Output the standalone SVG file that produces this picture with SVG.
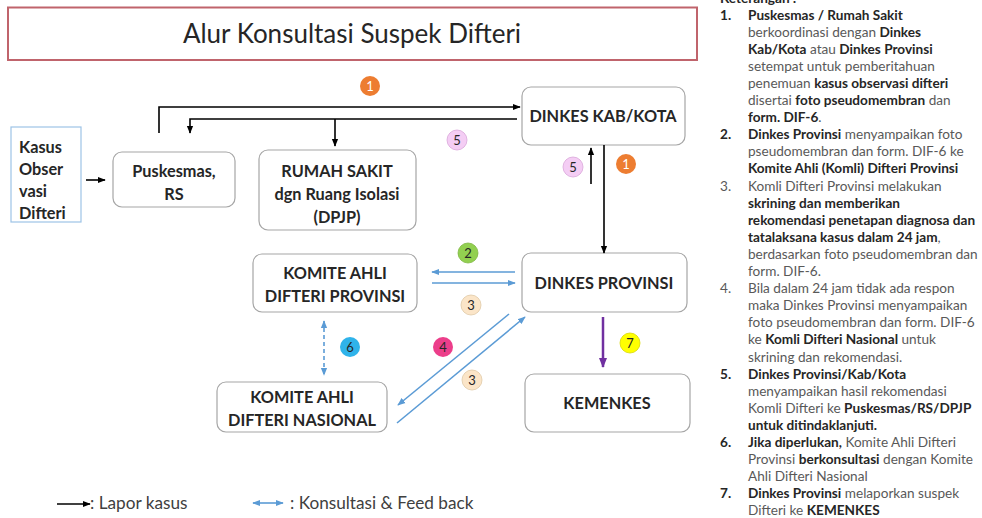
<svg xmlns="http://www.w3.org/2000/svg" width="982" height="518" viewBox="0 0 982 518">
<defs>
<style>
.node rect{fill:#fff;stroke:#a6a6a6;stroke-width:1.2}
.nt{font-family:Lato,"Liberation Sans",sans-serif;font-weight:bold;font-size:16.3px;fill:#262626;text-anchor:middle}
.bk{fill:none;stroke:#000;stroke-width:1.6}
.bl{fill:none;stroke:#5b9bd5;stroke-width:1.6}
.num{font-family:Lato,"Liberation Sans",sans-serif;font-size:13px;text-anchor:middle;fill:#262626}
.ket{font-family:Lato,"Liberation Sans",sans-serif;font-size:13.6px;fill:#595959}
.ket .b{font-weight:bold;fill:#262626}
.leg{font-family:Lato,"Liberation Sans",sans-serif;font-size:17.2px;fill:#404040}
</style>
<marker id="ab" viewBox="0 0 10 10" refX="9" refY="5" markerWidth="8" markerHeight="8" markerUnits="userSpaceOnUse" orient="auto-start-reverse"><path d="M0,1 L10,5 L0,9 z" fill="#000"/></marker>
<marker id="abl" viewBox="0 0 10 10" refX="9" refY="5" markerWidth="8" markerHeight="8" markerUnits="userSpaceOnUse" orient="auto-start-reverse"><path d="M0,1 L10,5 L0,9 z" fill="#5b9bd5"/></marker>
<marker id="ap" viewBox="0 0 10 10" refX="9" refY="5" markerWidth="10" markerHeight="10" markerUnits="userSpaceOnUse" orient="auto-start-reverse"><path d="M0,1 L10,5 L0,9 z" fill="#7030a0"/></marker>
</defs>
<rect width="982" height="518" fill="#fff"/>

<g id="title">
<rect x="8" y="7.5" width="689" height="52.5" fill="#fff" stroke="#c0646c" stroke-width="2"/>
<text x="352" y="43" font-family="Lato,'Liberation Sans',sans-serif" font-size="26" fill="#262626" text-anchor="middle">Alur Konsultasi Suspek Difteri</text>
</g>

<g id="kasus">
<rect x="11" y="127" width="70" height="95" fill="#fff" stroke="#9dc3e6" stroke-width="1.2"/>
<text class="nt" style="text-anchor:start" x="19"><tspan x="19" y="153">Kasus</tspan><tspan x="19" y="175">Obser</tspan><tspan x="19" y="197">vasi</tspan><tspan x="19" y="219">Difteri</tspan></text>
</g>

<g id="puskesmas" class="node">
<rect x="113" y="152" width="122" height="55" rx="9"/>
<text class="nt" x="174"><tspan x="174" y="177">Puskesmas,</tspan><tspan x="174" y="200">RS</tspan></text>
</g>

<g id="rumahsakit" class="node">
<rect x="259" y="150" width="157" height="80" rx="9"/>
<text class="nt" x="337"><tspan x="337" y="177">RUMAH SAKIT</tspan><tspan x="337" y="200">dgn Ruang Isolasi</tspan><tspan x="337" y="223">(DPJP)</tspan></text>
</g>

<g id="dinkeskab" class="node">
<rect x="522" y="87" width="163" height="58" rx="9"/>
<text class="nt" x="603" y="122">DINKES KAB/KOTA</text>
</g>

<g id="dinkesprov" class="node">
<rect x="522" y="253" width="165" height="59" rx="9"/>
<text class="nt" x="604" y="289">DINKES PROVINSI</text>
</g>

<g id="komiteprov" class="node">
<rect x="253" y="254" width="164" height="58" rx="9"/>
<text class="nt" x="335"><tspan x="335" y="279">KOMITE AHLI</tspan><tspan x="335" y="302">DIFTERI PROVINSI</tspan></text>
</g>

<g id="komitenas" class="node">
<rect x="217" y="382" width="170" height="50" rx="9"/>
<text class="nt" x="302"><tspan x="302" y="403">KOMITE AHLI</tspan><tspan x="302" y="426">DIFTERI NASIONAL</tspan></text>
</g>

<g id="kemenkes" class="node">
<rect x="525" y="374" width="165" height="58" rx="9"/>
<text class="nt" x="607" y="409">KEMENKES</text>
</g>

<g id="connectors">
<path class="bk" d="M86,180 H105" marker-end="url(#ab)"/>
<path class="bk" d="M159,133 V107 H520" marker-end="url(#ab)"/>
<path class="bk" d="M517,119 H190 V133" marker-end="url(#ab)"/>
<path class="bk" d="M335,119 V146" marker-end="url(#ab)"/>
<path class="bk" d="M604,145 V253" marker-end="url(#ab)"/>
<path class="bk" d="M591,184 V148" marker-end="url(#ab)"/>
<path class="bl" d="M515,272 H432" marker-end="url(#abl)"/>
<path class="bl" d="M432,283 H515" marker-end="url(#abl)"/>
<path class="bl" d="M324,321 V375" stroke-dasharray="4,3" marker-start="url(#abl)" marker-end="url(#abl)"/>
<path class="bl" d="M509,314 L398,405" marker-end="url(#abl)"/>
<path class="bl" d="M397,423 L525,317" marker-end="url(#abl)"/>
<path d="M603,317 V367" stroke="#7030a0" stroke-width="2.5" fill="none" marker-end="url(#ap)"/>
</g>

<g id="badges">
<circle cx="370" cy="86" r="10" fill="#ed7d31"/><text class="num" x="370" y="90.5" style="fill:#fff">1</text>
<circle cx="457" cy="140" r="10" fill="#f4cdf4" stroke="#d9a6d9" stroke-width="0.8"/><text class="num" x="457" y="144.5">5</text>
<circle cx="573" cy="167" r="10" fill="#f4cdf4" stroke="#d9a6d9" stroke-width="0.8"/><text class="num" x="573" y="171.5">5</text>
<circle cx="626" cy="164" r="10" fill="#ed7d31"/><text class="num" x="626" y="168.5" style="fill:#fff">1</text>
<circle cx="468" cy="253" r="10" fill="#92d050" stroke="#7fb842" stroke-width="0.8"/><text class="num" x="468" y="257.5">2</text>
<circle cx="471" cy="305" r="10" fill="#fbe5c8" stroke="#e0c9a6" stroke-width="0.8"/><text class="num" x="471" y="309.5">3</text>
<circle cx="350" cy="347" r="10" fill="#2fb3ea"/><text class="num" x="350" y="351.5">6</text>
<circle cx="443" cy="347" r="10" fill="#ec3e8a"/><text class="num" x="443" y="351.5">4</text>
<circle cx="472" cy="380" r="10" fill="#fbe5c8" stroke="#e0c9a6" stroke-width="0.8"/><text class="num" x="472" y="384.5">3</text>
<circle cx="630" cy="343" r="10" fill="#ffff00" stroke="#d8d800" stroke-width="0.8"/><text class="num" x="630" y="347.5">7</text>
</g>

<g id="legend">
<path class="bk" d="M57,504 H90" marker-end="url(#ab)"/>
<text class="leg" x="90" y="509">: Lapor kasus</text>
<path class="bl" d="M253,503 H283" marker-start="url(#abl)" marker-end="url(#abl)"/>
<text class="leg" x="290" y="509">: Konsultasi &amp; Feed back</text>
</g>

<g id="keterangan" class="ket">
<text x="720" y="3" class="b">Keterangan :</text>
<text x="720" y="19.5" class="b">1.</text>
<text x="748" y="19.5"><tspan class="b">Puskesmas / Rumah Sakit</tspan></text>
<text x="748" y="36.6">berkoordinasi dengan <tspan class="b">Dinkes</tspan></text>
<text x="748" y="53.7"><tspan class="b">Kab/Kota</tspan> atau <tspan class="b">Dinkes Provinsi</tspan></text>
<text x="748" y="70.8">setempat untuk pemberitahuan</text>
<text x="748" y="87.9">penemuan <tspan class="b">kasus observasi difteri</tspan></text>
<text x="748" y="105">disertai <tspan class="b">foto pseudomembran</tspan> dan</text>
<text x="748" y="122.1"><tspan class="b">form. DIF-6</tspan>.</text>
<text x="720" y="139.2" class="b">2.</text>
<text x="748" y="139.2"><tspan class="b">Dinkes Provinsi</tspan> menyampaikan foto</text>
<text x="748" y="156.3">pseudomembran dan form. DIF-6 ke</text>
<text x="748" y="173.4"><tspan class="b">Komite Ahli (Komli) Difteri Provinsi</tspan></text>
<text x="720" y="190.5">3.</text>
<text x="748" y="190.5">Komli Difteri Provinsi melakukan</text>
<text x="748" y="207.6"><tspan class="b">skrining dan memberikan</tspan></text>
<text x="748" y="224.7"><tspan class="b">rekomendasi penetapan diagnosa dan</tspan></text>
<text x="748" y="241.8"><tspan class="b">tatalaksana kasus dalam 24 jam</tspan>,</text>
<text x="748" y="258.9">berdasarkan foto pseudomembran dan</text>
<text x="748" y="276">form. DIF-6.</text>
<text x="720" y="293.1">4.</text>
<text x="748" y="293.1">Bila dalam 24 jam tidak ada respon</text>
<text x="748" y="310.2">maka Dinkes Provinsi menyampaikan</text>
<text x="748" y="327.3">foto pseudomembran dan form. DIF-6</text>
<text x="748" y="344.4">ke <tspan class="b">Komli Difteri Nasional</tspan> untuk</text>
<text x="748" y="361.5">skrining dan rekomendasi.</text>
<text x="720" y="378.6" class="b">5.</text>
<text x="748" y="378.6"><tspan class="b">Dinkes Provinsi/Kab/Kota</tspan></text>
<text x="748" y="395.7">menyampaikan hasil rekomendasi</text>
<text x="748" y="412.8">Komli Difteri ke <tspan class="b">Puskesmas/RS/DPJP</tspan></text>
<text x="748" y="429.9"><tspan class="b">untuk ditindaklanjuti.</tspan></text>
<text x="720" y="447" class="b">6.</text>
<text x="748" y="447"><tspan class="b">Jika diperlukan,</tspan> Komite Ahli Difteri</text>
<text x="748" y="464.1">Provinsi <tspan class="b">berkonsultasi</tspan> dengan Komite</text>
<text x="748" y="481.2">Ahli Difteri Nasional</text>
<text x="720" y="498.3" class="b">7.</text>
<text x="748" y="498.3"><tspan class="b">Dinkes Provinsi</tspan> melaporkan suspek</text>
<text x="748" y="515.4">Difteri ke <tspan class="b">KEMENKES</tspan></text>
</g>
</svg>
